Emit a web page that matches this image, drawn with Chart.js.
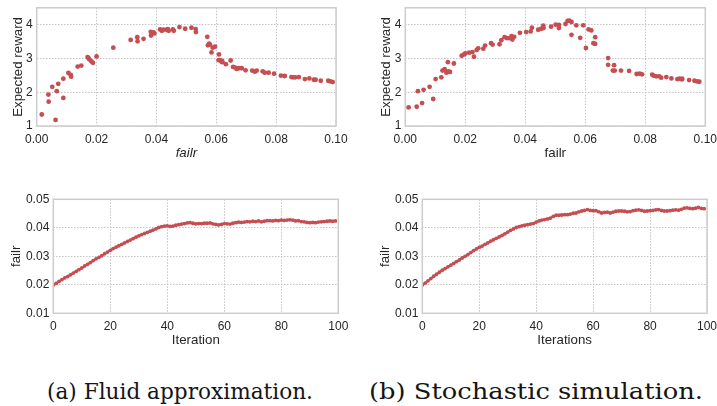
<!DOCTYPE html>
<html><head><meta charset="utf-8">
<script src="https://cdn.jsdelivr.net/npm/chart.js@4.4.1/dist/chart.umd.min.js"></script>
<style>
html,body{margin:0;padding:0;background:#fff;width:717px;height:406px;overflow:hidden;position:relative;}
canvas{position:absolute;}
.cap{position:absolute;font-family:"DejaVu Serif";font-size:21.5px;line-height:22px;color:#151515;white-space:nowrap;transform-origin:0 0;}
</style></head><body>
<canvas id="c1" width="358" height="180" style="left:0;top:0"></canvas>
<canvas id="c2" width="359" height="180" style="left:358px;top:0"></canvas>
<canvas id="c3" width="358" height="180" style="left:0;top:180px"></canvas>
<canvas id="c4" width="359" height="180" style="left:358px;top:180px"></canvas>
<div class="cap" id="capA" style="left:47px;top:381px">(a) Fluid approximation.</div>
<div class="cap" id="capB" style="left:369px;top:381px">(b) Stochastic simulation.</div>
<script>
// ---- data ----
const fluidFailr = [0.0017,0.0039,0.0040,0.0052,0.0063,0.0067,0.0072,0.0089,0.0089,0.0106,0.0114,0.0115,0.0137,0.0149,0.0170,0.0173,0.0176,0.0183,0.0188,0.0200,0.0256,0.0314,0.0336,0.0337,0.0357,0.0381,0.0382,0.0390,0.0393,0.0412,0.0418,0.0423,0.0434,0.0438,0.0441,0.0455,0.0458,0.0477,0.0496,0.0517,0.0531,0.0532,0.0570,0.0572,0.0576,0.0579,0.0584,0.0588,0.0596,0.0609,0.0608,0.0615,0.0619,0.0620,0.0632,0.0648,0.0656,0.0663,0.0668,0.0675,0.0685,0.0698,0.0720,0.0729,0.0735,0.0755,0.0762,0.0775,0.0793,0.0816,0.0829,0.0851,0.0857,0.0864,0.0876,0.0896,0.0911,0.0926,0.0932,0.0949,0.0974,0.0982,0.0989];
const fluidReward = [1.34,1.93,1.72,2.16,1.18,2.03,2.25,2.40,1.83,2.57,2.51,2.46,2.76,2.79,3.04,3.01,2.97,2.91,2.87,3.06,3.32,3.55,3.63,3.51,3.58,3.79,3.68,3.77,3.74,3.86,3.82,3.85,3.85,3.87,3.82,3.86,3.82,3.93,3.88,3.91,3.87,3.78,3.64,3.39,3.44,3.41,3.18,3.32,3.35,3.12,2.95,2.94,2.89,2.92,2.83,2.94,2.75,2.73,2.69,2.71,2.71,2.65,2.64,2.61,2.64,2.62,2.58,2.58,2.55,2.49,2.48,2.45,2.44,2.44,2.45,2.39,2.41,2.37,2.37,2.34,2.34,2.32,2.30];
const stochFailr = [0.0011,0.0038,0.0042,0.0056,0.0061,0.0081,0.0093,0.0101,0.0120,0.0124,0.0131,0.0137,0.0142,0.0143,0.0149,0.0162,0.0188,0.0196,0.0200,0.0213,0.0224,0.0229,0.0238,0.0243,0.0260,0.0266,0.0286,0.0291,0.0314,0.0320,0.0331,0.0339,0.0349,0.0354,0.0357,0.0363,0.0382,0.0403,0.0418,0.0422,0.0443,0.0453,0.0460,0.0461,0.0486,0.0501,0.0512,0.0512,0.0534,0.0541,0.0547,0.0554,0.0554,0.0570,0.0583,0.0593,0.0602,0.0611,0.0620,0.0627,0.0633,0.0633,0.0676,0.0676,0.0696,0.0692,0.0698,0.0719,0.0746,0.0771,0.0781,0.0789,0.0823,0.0828,0.0836,0.0846,0.0853,0.0870,0.0887,0.0907,0.0914,0.0922,0.0923,0.0946,0.0964,0.0973,0.0980];
const stochReward = [1.55,1.57,2.03,1.68,2.07,2.16,1.80,2.39,2.44,2.64,2.68,2.58,2.89,2.62,2.60,2.85,3.08,3.12,3.15,3.17,3.19,3.05,3.25,3.30,3.29,3.38,3.45,3.41,3.42,3.54,3.63,3.60,3.60,3.66,3.56,3.64,3.76,3.78,3.80,3.91,3.85,3.88,3.97,3.90,3.94,4.00,3.99,3.90,4.02,4.11,4.12,4.08,3.70,3.98,3.61,3.98,3.31,3.86,3.83,3.45,3.63,3.43,3.01,2.81,2.80,2.64,2.64,2.64,2.63,2.54,2.55,2.53,2.52,2.49,2.47,2.47,2.43,2.45,2.41,2.39,2.40,2.38,2.40,2.36,2.34,2.32,2.31];
const iterations = [0,1,2,3,4,5,6,7,8,9,10,11,12,13,14,15,16,17,18,19,20,21,22,23,24,25,26,27,28,29,30,31,32,33,34,35,36,37,38,39,40,41,42,43,44,45,46,47,48,49,50,51,52,53,54,55,56,57,58,59,60,61,62,63,64,65,66,67,68,69,70,71,72,73,74,75,76,77,78,79,80,81,82,83,84,85,86,87,88,89,90,91,92,93,94,95,96,97,98,99];
const fluidIterFailr = [0.0199,0.0205,0.0212,0.0218,0.0224,0.0229,0.0235,0.0241,0.0247,0.0253,0.0259,0.0266,0.0272,0.0278,0.0285,0.0291,0.0296,0.0302,0.0309,0.0315,0.0321,0.0327,0.0332,0.0337,0.0342,0.0347,0.0352,0.0357,0.0362,0.0367,0.0372,0.0376,0.0380,0.0384,0.0388,0.0392,0.0396,0.0401,0.0404,0.0406,0.0407,0.0405,0.0406,0.0409,0.0411,0.0413,0.0415,0.0417,0.0418,0.0416,0.0414,0.0415,0.0415,0.0416,0.0416,0.0417,0.0414,0.0412,0.0410,0.0412,0.0415,0.0414,0.0413,0.0416,0.0418,0.0420,0.0419,0.0420,0.0422,0.0421,0.0423,0.0422,0.0424,0.0421,0.0423,0.0425,0.0425,0.0424,0.0426,0.0425,0.0427,0.0426,0.0427,0.0428,0.0427,0.0424,0.0425,0.0422,0.0421,0.0419,0.0418,0.0419,0.0418,0.0420,0.0421,0.0422,0.0423,0.0424,0.0423,0.0424];
const stochIterFailr = [0.0199,0.0206,0.0214,0.0222,0.0230,0.0237,0.0244,0.0251,0.0257,0.0263,0.0269,0.0275,0.0281,0.0287,0.0294,0.0300,0.0306,0.0313,0.0320,0.0326,0.0331,0.0336,0.0342,0.0347,0.0353,0.0358,0.0363,0.0368,0.0373,0.0379,0.0385,0.0391,0.0396,0.0401,0.0404,0.0407,0.0409,0.0411,0.0413,0.0415,0.0420,0.0424,0.0427,0.0429,0.0431,0.0434,0.0440,0.0444,0.0444,0.0445,0.0446,0.0446,0.0448,0.0451,0.0452,0.0456,0.0459,0.0461,0.0464,0.0461,0.0460,0.0460,0.0456,0.0452,0.0454,0.0455,0.0452,0.0455,0.0458,0.0459,0.0459,0.0458,0.0456,0.0457,0.0460,0.0462,0.0463,0.0461,0.0458,0.0459,0.0460,0.0461,0.0463,0.0464,0.0461,0.0459,0.0459,0.0460,0.0462,0.0463,0.0462,0.0465,0.0469,0.0470,0.0468,0.0467,0.0469,0.0472,0.0468,0.0467];
const failrTicks = [0, 0.02, 0.04, 0.06, 0.08, 0.10];
const rewardTicks = [1, 2, 3, 4];
const iterTicks = [0, 20, 40, 60, 80, 100];
const iterFailrTicks = [0.01, 0.02, 0.03, 0.04, 0.05];

// ---- style ----
const RED = '#c44e52';
const TXT = '#262626';
const FONT = '"Liberation Sans", Arial, sans-serif';
const TICK_FONT = {family: FONT, size: 12};
const TITLE_SIZE = 13.3;

const boxPlugin = {
  id: 'box',
  afterDatasetsDraw(chart) {
    const {ctx, chartArea: a} = chart;
    ctx.save();
    ctx.strokeStyle = '#cccccc';
    ctx.lineWidth = 1.5;
    ctx.strokeRect(a.left, a.top, a.right - a.left, a.bottom - a.top);
    ctx.restore();
  }
};

function pts(xs, ys) { return xs.map((x, i) => ({x: x, y: ys[i]})); }

function makePanel(id, g, dataset, xr, yr, xTicks, yTicks, xDec, yDec, xTitle, yTitle, xItalic) {
  const canvas = document.getElementById(id);
  const W = canvas.width, H = canvas.height;
  const lh = TITLE_SIZE * 1.2;
  new Chart(canvas, {
    type: 'scatter',
    data: {datasets: [dataset]},
    options: {
      responsive: false, animation: false, devicePixelRatio: 1,
      layout: {padding: {left: 0, top: g.t, right: W - g.r, bottom: 0}},
      plugins: {legend: {display: false}, tooltip: {enabled: false}},
      scales: {
        x: {
          type: 'linear', min: xr[0], max: xr[1],
          afterBuildTicks: s => { s.ticks = xTicks.map(v => ({value: v})); },
          afterFit: s => { s.height = H - g.b; s.paddingLeft = 0; s.paddingRight = 0; },
          ticks: {font: TICK_FONT, color: TXT, padding: g.xtp, maxRotation: 0, autoSkip: false,
                  callback: v => Number(v).toFixed(xDec)},
          grid: {color: '#c4c4c4', lineWidth: 1, drawTicks: false},
          border: {display: false, dash: [1.5, 1.5]},
          title: {display: true, text: xTitle, color: TXT,
                  font: {family: FONT, size: TITLE_SIZE, style: xItalic ? 'italic' : 'normal'},
                  padding: {top: 0, bottom: H - g.xtc - lh / 2}}
        },
        y: {
          type: 'linear', min: yr[0], max: yr[1],
          afterBuildTicks: s => { s.ticks = yTicks.map(v => ({value: v})); },
          afterFit: s => { s.width = g.l; s.paddingTop = 0; s.paddingBottom = 0; },
          ticks: {font: TICK_FONT, color: TXT, padding: g.ytp, autoSkip: false,
                  callback: v => Number(v).toFixed(yDec)},
          grid: {color: '#c4c4c4', lineWidth: 1, drawTicks: false},
          border: {display: false, dash: [1.5, 1.5]},
          title: {display: true, text: yTitle, color: TXT,
                  font: {family: FONT, size: TITLE_SIZE},
                  padding: {top: g.ytc - lh / 2, bottom: 0}}
        }
      }
    },
    plugins: [boxPlugin]
  });
}

const scatterStyle = {backgroundColor: RED, borderWidth: 0, pointRadius: 2.4, pointHoverRadius: 2.4, showLine: false};
const lineStyle = {borderColor: RED, backgroundColor: RED, borderWidth: 2, pointRadius: 1.9, pointBorderWidth: 0, pointHoverRadius: 1.9, showLine: true, tension: 0};

makePanel('c1', {l: 36.7, r: 336, t: 7.8, b: 126, xtp: 6, ytp: 4, xtc: 153.5, ytc: 18.3},
  Object.assign({data: pts(fluidFailr, fluidReward)}, scatterStyle),
  [0, 0.1], [1, 4.5], failrTicks, rewardTicks, 2, 0, 'failr', 'Expected reward', true);
makePanel('c2', {l: 47.3, r: 347.3, t: 7.8, b: 126, xtp: 6, ytp: 4, xtc: 153.3, ytc: 28.3},
  Object.assign({data: pts(stochFailr, stochReward)}, scatterStyle),
  [0, 0.1], [1, 4.5], failrTicks, rewardTicks, 2, 0, 'failr', 'Expected reward', false);
makePanel('c3', {l: 53.3, r: 338.3, t: 19.3, b: 133.3, xtp: 6, ytp: 4, xtc: 160, ytc: 16.7},
  Object.assign({data: pts(iterations, fluidIterFailr)}, lineStyle),
  [0, 100], [0.01, 0.05], iterTicks, iterFailrTicks, 0, 2, 'Iteration', 'failr', false);
makePanel('c4', {l: 64.3, r: 349, t: 19.3, b: 133.3, xtp: 6, ytp: 4, xtc: 160, ytc: 27.7},
  Object.assign({data: pts(iterations, stochIterFailr)}, lineStyle),
  [0, 100], [0.01, 0.05], iterTicks, iterFailrTicks, 0, 2, 'Iterations', 'failr', false);

// caption width fit
function fit(id, target) {
  const el = document.getElementById(id);
  const w = el.getBoundingClientRect().width;
  el.style.transform = 'scaleX(' + (target / w) + ')';
}
fit('capA', 266);
fit('capB', 334);
</script>
</body></html>
